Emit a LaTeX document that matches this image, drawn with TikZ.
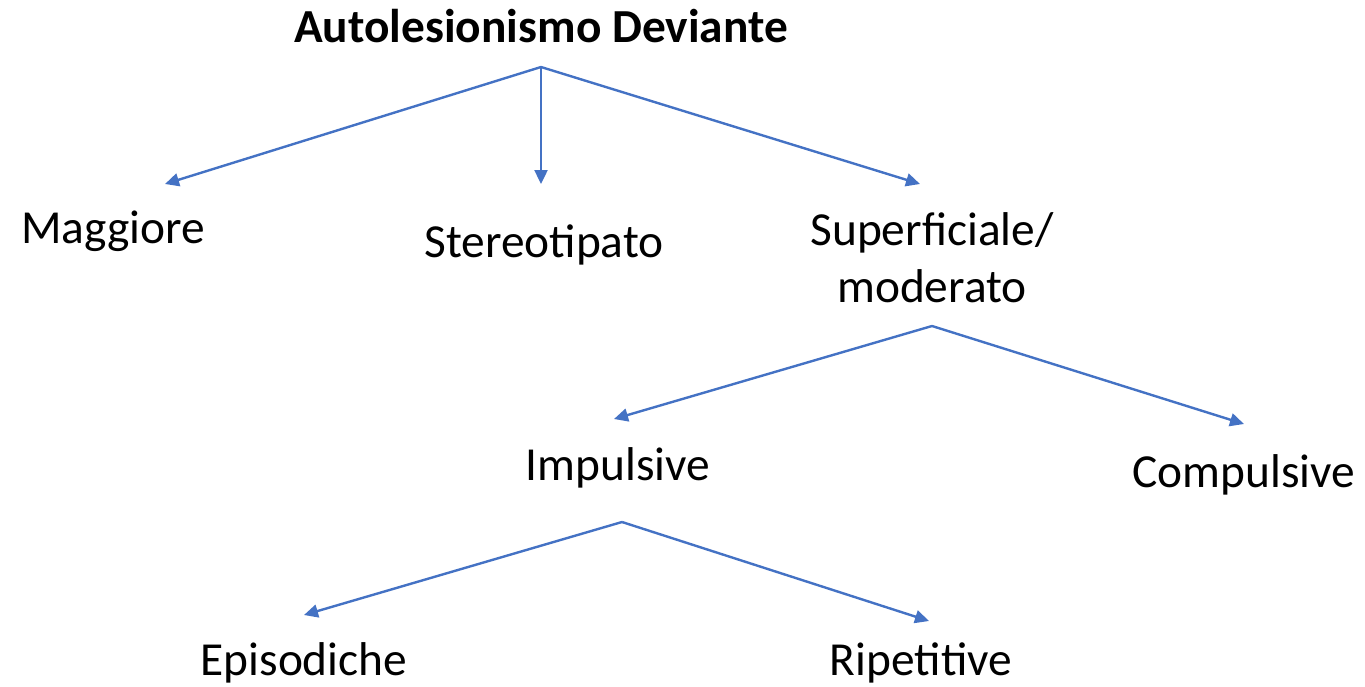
\documentclass[tikz,border=0pt]{standalone}
\usepackage{fontspec}
\setmainfont{Carlito}
\usetikzlibrary{arrows.meta}
\definecolor{arrowblue}{HTML}{4472C4}
\tikzset{
  lbl/.style={anchor=base, inner sep=0pt, font=\fontsize{23.7}{28.5}\selectfont},
  ttl/.style={lbl, font=\fontsize{23.7}{28.5}\selectfont\bfseries},
  conn/.style={draw=arrowblue, line width=1.2pt, -{Triangle[length=7pt,width=6.5pt]}}
}
\begin{document}
\begin{tikzpicture}[x=0.5pt,y=-0.5pt]
\useasboundingbox (0,0) rectangle (1365,686);
% nodes
\node[ttl] (title) at (541,42) {Autolesionismo Deviante};
\node[lbl] (mag) at (113,243) {Maggiore};
\node[lbl] (ste) at (544,257) {Stereotipato};
\node[lbl] (sup) at (932,245) {Superficiale/};
\node[lbl] (mod) at (932,302) {moderato};
\node[lbl] (imp) at (618,480) {Impulsive};
\node[lbl] (com) at (1244,487) {Compulsive};
\node[lbl] (epi) at (304,675) {Episodiche};
\node[lbl] (rip) at (921,675) {Ripetitive};
% connector coordinates
\coordinate (t0) at (541,67);
\coordinate (tm) at (165,184);
\coordinate (ts) at (541,184);
\coordinate (tp) at (920,184);
\coordinate (s0) at (932,326);
\coordinate (si) at (614,419);
\coordinate (sc) at (1244,424);
\coordinate (i0) at (622,522);
\coordinate (ie) at (304,615);
\coordinate (ir) at (929,621);
% connectors
\draw[conn] (t0) -- (tm);
\draw[conn] (t0) -- (ts);
\draw[conn] (t0) -- (tp);
\draw[conn] (s0) -- (si);
\draw[conn] (s0) -- (sc);
\draw[conn] (i0) -- (ie);
\draw[conn] (i0) -- (ir);
\end{tikzpicture}
\end{document}
